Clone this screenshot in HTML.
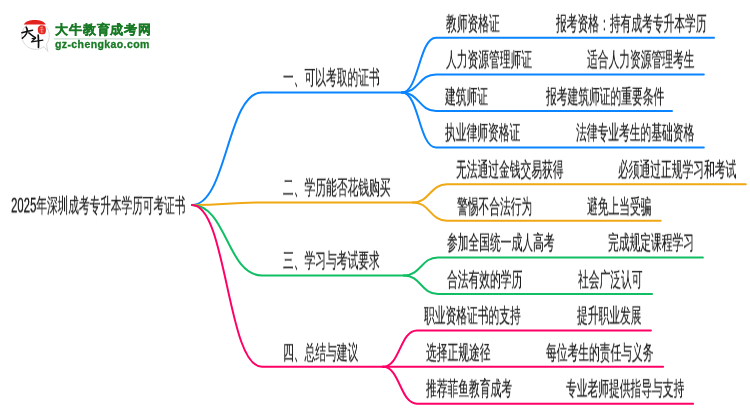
<!DOCTYPE html><html><head><meta charset="utf-8"><style>
html,body{margin:0;padding:0;background:#fff;width:750px;height:410px;overflow:hidden}
body{position:relative;font-family:"Liberation Sans",sans-serif}
.t{position:absolute;font-size:21px;will-change:transform;-webkit-text-stroke:0.2px #1e1e1e;line-height:30px;white-space:nowrap;color:#1e1e1e;transform:scale(0.512,0.97);transform-origin:0 0}
svg{position:absolute;left:0;top:0}
.logo1{position:absolute;left:54.5px;top:21.2px;font-size:13px;line-height:18px;font-weight:900;color:#187a24;-webkit-text-stroke:0.3px #187a24;white-space:nowrap;letter-spacing:0.85px;will-change:transform}
.logo2{position:absolute;left:55.3px;top:37.6px;font-size:10.5px;line-height:12px;font-weight:bold;color:#187a24;-webkit-text-stroke:0.3px #187a24;white-space:nowrap;letter-spacing:0.4px;will-change:transform}
</style></head><body>

<svg width="750" height="410" viewBox="0 0 750 410">
<path d="M192,205 C227.0,205 227.0,92.4 262,92.4 L402,92.4" fill="none" stroke="#0a84ff" stroke-width="2.0" stroke-linecap="round"/>
<path d="M402,92.4 C419.0,92.4 419.0,37.7 436,37.7 L714.0,37.7" fill="none" stroke="#0a84ff" stroke-width="2.0" stroke-linecap="round"/>
<path d="M402,92.4 C419.0,92.4 419.0,74.4 436,74.4 L703.8,74.4" fill="none" stroke="#0a84ff" stroke-width="2.0" stroke-linecap="round"/>
<path d="M402,92.4 C419.0,92.4 419.0,111.0 436,111.0 L672.0,111.0" fill="none" stroke="#0a84ff" stroke-width="2.0" stroke-linecap="round"/>
<path d="M402,92.4 C419.0,92.4 419.0,147.5 436,147.5 L703.8,147.5" fill="none" stroke="#0a84ff" stroke-width="2.0" stroke-linecap="round"/>
<path d="M192,205 C227.0,205 227.0,202.4 262,202.4 L413,202.4" fill="none" stroke="#f0a814" stroke-width="2.0" stroke-linecap="round"/>
<path d="M413,202.4 C430.0,202.4 430.0,184.2 447,184.2 L745.8,184.2" fill="none" stroke="#f0a814" stroke-width="2.0" stroke-linecap="round"/>
<path d="M413,202.4 C430.0,202.4 430.0,220.8 447,220.8 L660.7,220.8" fill="none" stroke="#f0a814" stroke-width="2.0" stroke-linecap="round"/>
<path d="M192,205 C227.0,205 227.0,275.5 262,275.5 L404,275.5" fill="none" stroke="#10be64" stroke-width="2.0" stroke-linecap="round"/>
<path d="M404,275.5 C421.0,275.5 421.0,257.4 438,257.4 L702.9,257.4" fill="none" stroke="#10be64" stroke-width="2.0" stroke-linecap="round"/>
<path d="M404,275.5 C421.0,275.5 421.0,294.0 438,294.0 L652.0,294.0" fill="none" stroke="#10be64" stroke-width="2.0" stroke-linecap="round"/>
<path d="M192,205 C227.0,205 227.0,366.8 262,366.8 L383,366.8" fill="none" stroke="#ff0066" stroke-width="2.0" stroke-linecap="round"/>
<path d="M383,366.8 C400.0,366.8 400.0,330.4 417,330.4 L650.9,330.4" fill="none" stroke="#ff0066" stroke-width="2.0" stroke-linecap="round"/>
<path d="M383,366.8 C400.0,366.8 400.0,366.8 417,366.8 L663.1,366.8" fill="none" stroke="#ff0066" stroke-width="2.0" stroke-linecap="round"/>
<path d="M383,366.8 C400.0,366.8 400.0,403.7 417,403.7 L693.1,403.7" fill="none" stroke="#ff0066" stroke-width="2.0" stroke-linecap="round"/>
<g>
<path d="M44,46.5 A13.8,13.8 0 1 1 46.5,44 L47.8,51.5 Z" fill="#fff" stroke="#d6d6d6" stroke-width="0.9"/>
<path d="M23.8,24.4 C26,21 30,19.9 34.8,19.9 C39.6,19.9 43.6,21 45.8,24.4 Z" fill="#e3211e"/>
<path d="M38.3,27 C39.3,25 43,24.6 45,26.3 C46.4,28.5 46.2,32.5 44.6,34 C42.5,34.6 39.5,34.4 38.4,32.8 C37.6,31 37.6,28.5 38.3,27 Z" fill="#e42a22"/>
<path d="M40,27.8 L42.8,27.2 M39.8,29.8 L43.8,29.5 M40.6,31.8 L43.4,32.2 M42,26.5 L41.5,33" stroke="#f4b5b0" stroke-width="0.6" fill="none"/>
<path d="M21.9,32.8 C25.5,31.8 29.5,30.8 32.6,30.2" stroke="#111" stroke-width="1.5" fill="none" stroke-linecap="round"/>
<path d="M26.2,27.2 C27.6,29 27.6,31 26.5,33.5 C25.5,35.5 24,37 22.4,38.2" stroke="#111" stroke-width="1.6" fill="none" stroke-linecap="round"/>
<path d="M28.8,32.9 C31,34.5 33,36.2 35.4,37.6" stroke="#111" stroke-width="1.5" fill="none" stroke-linecap="round"/>
<path d="M32.2,38.7 L35.6,38.1 L31.4,41.9 C35,41.5 39,40.8 42.9,40.2" stroke="#111" stroke-width="1.2" fill="none" stroke-linecap="round" stroke-linejoin="round"/>
<path d="M38.2,35.2 C38.6,40 38.7,44 38.5,47.3" stroke="#111" stroke-width="1.7" fill="none" stroke-linecap="round"/>
</g>
<line x1="54" y1="38.8" x2="150" y2="38.8" stroke="#c9dccd" stroke-width="1.2"/>
</svg>
<div class="logo1">大牛教育成考网</div>
<div class="logo2">gz-chengkao.com</div>
<div class="t" style="left:11.0px;top:191.4px;transform:scale(0.507,0.97)"><span style="font-size:22.5px;position:relative;top:0.3px;-webkit-text-stroke:0.4px #222;color:#1e1e1e">2025</span>年深圳成考专升本学历可考证书</div>
<div class="t" style="left:282.5px;top:63.2px">一、可以考取的证书</div>
<div class="t" style="left:283.1px;top:173.2px">二、学历能否花钱购买</div>
<div class="t" style="left:283.1px;top:246.2px">三、学习与考试要求</div>
<div class="t" style="left:283.1px;top:337.6px">四、总结与建议</div>
<div class="t" style="left:446.3px;top:8.5px">教师资格证</div>
<div class="t" style="left:556.0px;top:8.5px">报考资格：持有成考专升本学历</div>
<div class="t" style="left:445.5px;top:45.2px">人力资源管理师证</div>
<div class="t" style="left:586.7px;top:45.2px">适合人力资源管理考生</div>
<div class="t" style="left:444.7px;top:81.8px">建筑师证</div>
<div class="t" style="left:545.5px;top:81.8px">报考建筑师证的重要条件</div>
<div class="t" style="left:444.7px;top:118.2px">执业律师资格证</div>
<div class="t" style="left:575.5px;top:118.2px">法律专业考生的基础资格</div>
<div class="t" style="left:455.5px;top:154.9px">无法通过金钱交易获得</div>
<div class="t" style="left:617.5px;top:154.9px">必须通过正规学习和考试</div>
<div class="t" style="left:456.7px;top:191.6px">警惕不合法行为</div>
<div class="t" style="left:586.7px;top:191.6px">避免上当受骗</div>
<div class="t" style="left:446.7px;top:228.1px">参加全国统一成人高考</div>
<div class="t" style="left:607.5px;top:228.1px">完成规定课程学习</div>
<div class="t" style="left:446.5px;top:264.8px">合法有效的学历</div>
<div class="t" style="left:578.1px;top:264.8px">社会广泛认可</div>
<div class="t" style="left:424.4px;top:301.1px">职业资格证书的支持</div>
<div class="t" style="left:576.9px;top:301.1px">提升职业发展</div>
<div class="t" style="left:425.5px;top:337.6px">选择正规途径</div>
<div class="t" style="left:546.2px;top:337.6px">每位考生的责任与义务</div>
<div class="t" style="left:425.5px;top:374.4px">推荐菲鱼教育成考</div>
<div class="t" style="left:566.2px;top:374.4px">专业老师提供指导与支持</div>
</body></html>
